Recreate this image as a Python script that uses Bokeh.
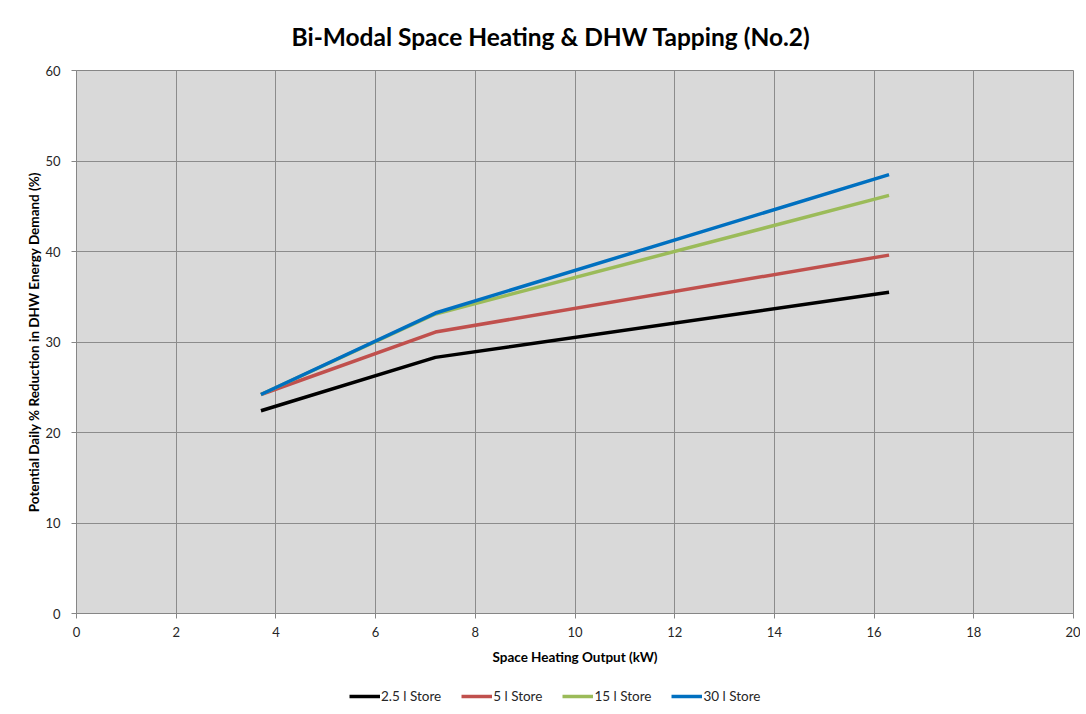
from bokeh.plotting import figure
from bokeh.layouts import column
from bokeh.models import Legend, LegendItem, FixedTicker, Range1d
from bokeh.embed import file_html
from bokeh.resources import INLINE

# ---- data ----
x_kw = [3.7, 7.2, 16.3]
series_names = ["2.5 l Store", "5 l Store", "15 l Store", "30 l Store"]
store_2_5 = [22.4, 28.3, 35.5]
store_5 = [24.2, 31.1, 39.6]
store_15 = [24.2, 33.1, 46.2]
store_30 = [24.2, 33.2, 48.5]
colors = ["#000000", "#C0504D", "#9BBB59", "#0070C0"]
x_ticks = [0, 2, 4, 6, 8, 10, 12, 14, 16, 18, 20]
y_ticks = [0, 10, 20, 30, 40, 50, 60]

FONT = "Lato"

p = figure(width=1080, height=673, output_backend="svg", toolbar_location=None,
           x_range=Range1d(0, 20), y_range=Range1d(0, 60),
           min_border_left=76, min_border_right=7, min_border_top=70, min_border_bottom=60,
           title="Bi-Modal Space Heating & DHW Tapping (No.2)")

p.title.text_font = FONT
p.title.text_font_size = "24.5px"
p.title.text_font_style = "bold"
p.title.text_color = "#000000"
p.title.align = "left"
p.title.offset = 215
p.title.standoff = 39

p.background_fill_color = "#D9D9D9"
p.border_fill_color = "#FFFFFF"
p.outline_line_color = "#868686"

for ax in (p.xaxis[0], p.yaxis[0]):
    ax.axis_line_color = "#868686"
    ax.major_tick_line_color = "#868686"
    ax.major_tick_in = 0
    ax.major_tick_out = 5
    ax.minor_tick_line_color = None
    ax.major_label_text_font = FONT
    ax.major_label_text_font_size = "13px"
    ax.major_label_text_color = "#262626"
    ax.axis_label_text_font = FONT
    ax.axis_label_text_font_style = "bold"
    ax.axis_label_text_color = "#000000"

p.xaxis.ticker = FixedTicker(ticks=x_ticks)
p.yaxis.ticker = FixedTicker(ticks=y_ticks)
p.xaxis.axis_label = "Space Heating Output (kW)"
p.yaxis.axis_label = "Potential Daily % Reduction in DHW Energy Demand (%)"
p.xaxis.axis_label_text_font_size = "13.5px"
p.yaxis.axis_label_text_font_size = "13.5px"
p.xaxis.major_label_standoff = 8
p.yaxis.major_label_standoff = 11
p.xaxis.axis_label_standoff = 9
p.yaxis.axis_label_standoff = 0

p.grid.grid_line_color = "#8C8C8C"
p.grid.grid_line_width = 1
p.grid.grid_line_alpha = 1.0

all_series = [store_2_5, store_5, store_15, store_30]
for ys, c in zip(all_series, colors):
    p.line(x_kw, ys, line_color=c, line_width=3.5)

# legend strip below the chart
pl = figure(width=1080, height=41, output_backend="svg", toolbar_location=None,
            x_range=Range1d(100, 101), y_range=Range1d(100, 101),
            x_axis_location=None, y_axis_location=None,
            min_border_left=0, min_border_right=0, min_border_top=0, min_border_bottom=0)
pl.grid.visible = False
pl.outline_line_color = None
pl.background_fill_color = "#FFFFFF"

items = []
for name, ys, c in zip(series_names, all_series, colors):
    r = pl.line(x_kw, ys, line_color=c, line_width=3.5)
    items.append(LegendItem(label=name, renderers=[r]))

legend = Legend(items=items, orientation="horizontal", location=(273, 10),
                background_fill_alpha=0, border_line_color=None,
                label_text_font=FONT, label_text_font_size="13.5px",
                label_text_color="#262626",
                glyph_width=31, glyph_height=14, label_standoff=1, spacing=20,
                padding=0, margin=0)
pl.add_layout(legend, "center")

layout = column(p, pl, spacing=0)
open("out.html", "w").write(file_html(layout, INLINE))
